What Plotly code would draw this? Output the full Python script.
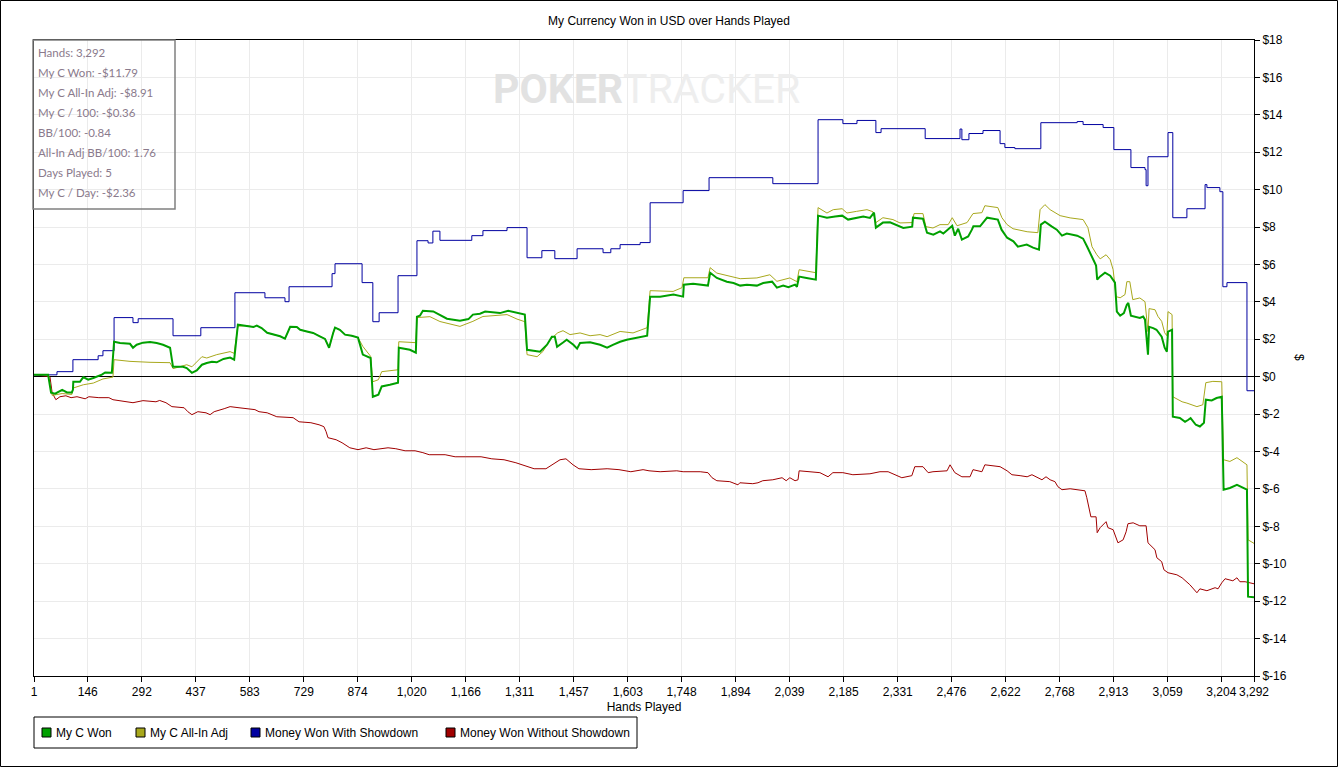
import plotly.graph_objects as go

# hands played vs cumulative USD
my_c_won = [
    (1, 0.11), (39, 0.11), (47, -0.86), (58, -0.91), (77, -0.70), (90, -0.84), (103, -0.84),
    (106, -0.70), (107, -0.27), (125, -0.27), (134, -0.02), (147, -0.16), (161, -0.07),
    (174, 0.02), (184, 0.11), (193, 0.23), (211, 0.21), (217, 1.87), (233, 1.80), (260, 1.76),
    (268, 1.55), (278, 1.71), (295, 1.82), (314, 1.85), (332, 1.80), (349, 1.71), (359, 1.62),
    (368, 1.55), (376, 0.53), (403, 0.53), (413, 0.46), (427, 0.21), (440, 0.34), (454, 0.64),
    (467, 0.73), (481, 0.80), (494, 0.77), (512, 0.95), (530, 1.02), (541, 0.91), (551, 2.78),
    (575, 2.73), (593, 2.66), (602, 2.73), (615, 2.60), (630, 2.35), (647, 2.25), (665, 2.16),
    (678, 2.03), (687, 2.42), (692, 2.67), (710, 2.66), (719, 2.51), (737, 2.42), (754, 2.34),
    (772, 2.16), (786, 2.02), (797, 1.55), (804, 2.16), (808, 2.34), (813, 2.62), (826, 2.51),
    (840, 2.25), (858, 2.19), (875, 2.09), (888, 1.18), (909, 1.00), (915, -1.07), (930, -0.96),
    (939, -0.52), (961, -0.43), (983, -0.32), (985, 1.55), (1015, 1.44), (1031, 1.28),
    (1034, 3.21), (1042, 3.26), (1050, 3.53), (1078, 3.49), (1096, 3.30), (1115, 3.10),
    (1150, 2.99), (1173, 3.08), (1185, 3.32), (1204, 3.37), (1218, 3.48), (1240, 3.44),
    (1258, 3.40), (1280, 3.53), (1299, 3.44), (1325, 3.32), (1331, 1.44), (1366, 1.34),
    (1385, 1.71), (1398, 2.14), (1406, 2.14), (1412, 1.60), (1429, 1.84), (1438, 1.98),
    (1456, 1.71), (1466, 1.50), (1474, 1.80), (1501, 1.84), (1528, 1.71), (1547, 1.55),
    (1564, 1.71), (1582, 1.87), (1600, 1.98), (1627, 2.07), (1655, 2.19), (1663, 4.28),
    (1690, 4.28), (1726, 4.39), (1752, 4.28), (1754, 4.92), (1779, 4.97), (1819, 4.87),
    (1825, 5.56), (1843, 5.28), (1870, 5.08), (1888, 5.01), (1906, 4.87), (1924, 4.92),
    (1951, 4.87), (1968, 5.01), (1992, 5.08), (2005, 4.76), (2022, 4.87), (2036, 4.78),
    (2054, 4.92), (2059, 4.81), (2065, 5.35), (2085, 5.28), (2110, 5.19), (2116, 8.61),
    (2140, 8.50), (2162, 8.57), (2181, 8.61), (2197, 8.40), (2220, 8.49), (2238, 8.57),
    (2256, 8.49), (2267, 8.77), (2272, 7.97), (2291, 8.24), (2310, 8.25), (2329, 8.07),
    (2346, 7.95), (2370, 8.02), (2372, 8.50), (2399, 8.45), (2410, 7.70), (2427, 7.59),
    (2445, 7.77), (2454, 7.65), (2467, 7.86), (2478, 8.07), (2485, 7.54), (2494, 7.91),
    (2504, 7.33), (2521, 7.50), (2531, 7.86), (2535, 8.04), (2553, 8.04), (2572, 8.50),
    (2601, 8.40), (2611, 7.86), (2626, 7.43), (2643, 7.24), (2655, 6.95), (2679, 7.06),
    (2696, 6.90), (2712, 6.79), (2717, 8.13), (2728, 8.29), (2746, 8.04), (2760, 7.86),
    (2774, 7.54), (2787, 7.65), (2815, 7.54), (2831, 7.38), (2842, 6.95), (2850, 6.63),
    (2863, 6.04), (2866, 5.94), (2869, 5.19), (2877, 5.36), (2890, 5.56), (2904, 5.40),
    (2917, 5.03), (2922, 3.48), (2931, 3.26), (2941, 3.40), (2949, 3.85), (2953, 3.94),
    (2960, 3.26), (2971, 3.22), (2984, 3.14), (2993, 3.22), (2998, 3.05), (3006, 1.18),
    (3009, 2.67), (3020, 2.60), (3029, 2.51), (3043, 2.14), (3051, 1.55), (3057, 1.34),
    (3060, 2.41), (3071, 2.51), (3073, -2.14), (3092, -2.21), (3106, -2.41), (3115, -2.30),
    (3121, -2.21), (3135, -2.57), (3146, -2.66), (3157, -2.46), (3162, -1.23), (3178, -1.27),
    (3191, -1.14), (3205, -1.07), (3210, -6.04), (3227, -5.95), (3246, -5.78), (3273, -6.04),
    (3276, -11.76), (3292, -11.79),
]

my_c_allin_adj = [
    (1, 0.11), (39, 0.11), (50, -1.00), (77, -0.90), (103, -0.95), (106, -0.61), (134, -0.43),
    (161, -0.34), (187, -0.12), (214, -0.02), (217, 0.91), (260, 0.82), (314, 0.77),
    (368, 0.75), (376, 0.43), (413, 0.64), (427, 0.53), (454, 1.07), (467, 1.00), (494, 1.18),
    (530, 1.34), (541, 1.25), (551, 2.70), (575, 2.73), (593, 2.66), (602, 2.73), (615, 2.60),
    (630, 2.35), (647, 2.25), (665, 2.16), (678, 2.03), (687, 2.42), (692, 2.67), (710, 2.66),
    (719, 2.51), (737, 2.42), (754, 2.34), (772, 2.16), (786, 2.02), (797, 1.55), (804, 2.16),
    (808, 2.34), (813, 2.62), (826, 2.51), (840, 2.25), (858, 2.19), (875, 2.09), (888, 1.62),
    (909, 1.09), (915, -0.27), (930, -0.16), (939, 0.27), (983, 0.37), (985, 1.87),
    (1031, 1.82), (1034, 3.16), (1069, 3.21), (1096, 2.95), (1150, 2.69), (1185, 2.96),
    (1212, 3.22), (1277, 3.32), (1304, 3.08), (1325, 2.94), (1331, 1.18), (1358, 1.07),
    (1374, 1.35), (1393, 1.98), (1414, 2.35), (1428, 2.46), (1447, 2.25), (1474, 2.34),
    (1501, 2.19), (1528, 2.25), (1547, 2.14), (1582, 2.42), (1617, 2.34), (1655, 2.62),
    (1663, 4.60), (1725, 4.56), (1749, 4.76), (1754, 5.29), (1819, 5.29), (1825, 5.83),
    (1843, 5.54), (1878, 5.36), (1906, 5.24), (1951, 5.28), (1986, 5.45), (2005, 5.10),
    (2040, 5.28), (2059, 5.08), (2065, 5.72), (2110, 5.56), (2116, 9.04), (2140, 8.75),
    (2157, 8.93), (2181, 8.98), (2194, 8.75), (2220, 8.84), (2248, 8.93), (2264, 8.82),
    (2272, 8.24), (2291, 8.50), (2318, 8.40), (2337, 8.22), (2370, 8.24), (2375, 8.72),
    (2399, 8.72), (2407, 8.02), (2426, 7.95), (2445, 8.13), (2467, 8.13), (2478, 8.50),
    (2491, 8.07), (2518, 8.24), (2534, 8.72), (2558, 8.77), (2566, 9.14), (2601, 9.04),
    (2612, 8.50), (2626, 8.13), (2642, 7.91), (2680, 7.75), (2709, 7.70), (2715, 8.93),
    (2728, 9.20), (2742, 8.93), (2769, 8.61), (2796, 8.49), (2831, 8.40), (2844, 7.97),
    (2855, 6.95), (2868, 6.52), (2877, 6.30), (2893, 6.52), (2904, 6.26), (2912, 5.72),
    (2920, 4.28), (2931, 4.22), (2944, 4.39), (2949, 5.08), (2957, 5.08), (2965, 4.12),
    (2984, 4.21), (2998, 4.01), (3006, 2.41), (3009, 3.64), (3025, 3.58), (3033, 3.22),
    (3043, 2.96), (3051, 2.35), (3057, 2.19), (3060, 3.48), (3071, 3.32), (3073, -1.07),
    (3098, -1.34), (3111, -1.41), (3138, -1.60), (3154, -1.50), (3162, -0.32), (3181, -0.25),
    (3205, -0.27), (3210, -4.44), (3227, -4.53), (3246, -4.33), (3273, -4.71), (3276, -8.72),
    (3292, -8.91),
]

# step line: value holds until the next hand listed
won_with_showdown = [
    (1, 0.10), (63, 0.27), (106, 0.91), (174, 1.12), (187, 1.39), (217, 3.16), (268, 2.89),
    (282, 3.10), (376, 2.19), (451, 2.62), (543, 4.49), (624, 4.22), (678, 4.01), (689, 4.81),
    (805, 5.51), (813, 6.04), (886, 5.03), (915, 2.94), (932, 3.42), (983, 5.40), (1034, 7.27),
    (1064, 7.15), (1077, 7.78), (1096, 7.29), (1182, 7.54), (1212, 7.81), (1277, 7.97),
    (1331, 6.36), (1371, 6.74), (1406, 6.31), (1466, 6.84), (1536, 6.63), (1557, 6.84),
    (1582, 7.06), (1636, 7.17), (1663, 9.30), (1752, 9.95), (1822, 10.64), (1994, 10.32),
    (2116, 13.74), (2183, 13.53), (2221, 13.70), (2272, 13.05), (2286, 13.26), (2405, 12.73),
    (2499, 13.24), (2504, 12.67), (2523, 13.00), (2561, 13.16), (2607, 12.46), (2620, 12.25),
    (2647, 12.19), (2717, 13.58), (2815, 13.64), (2831, 13.48), (2885, 13.32), (2914, 12.14),
    (2960, 11.18), (2998, 11.07), (3001, 10.21), (3006, 11.76), (3060, 13.05), (3073, 8.50),
    (3111, 8.98), (3160, 10.27), (3165, 10.11), (3200, 9.89), (3208, 4.81), (3219, 5.03),
    (3273, -0.75), (3292, -0.75),
]

won_without_showdown = [
    (1, 0.11), (44, 0.00), (50, -0.86), (60, -1.23), (71, -1.07), (87, -1.02), (101, -1.12),
    (117, -1.07), (139, -1.18), (149, -1.07), (176, -1.12), (203, -1.12), (214, -1.23),
    (236, -1.28), (246, -1.34), (268, -1.39), (295, -1.28), (330, -1.34), (340, -1.27),
    (357, -1.39), (373, -1.60), (406, -1.66), (416, -1.87), (427, -2.03), (443, -1.87),
    (465, -1.93), (476, -2.03), (487, -1.87), (514, -1.71), (530, -1.60), (554, -1.66),
    (581, -1.71), (597, -1.76), (608, -1.87), (630, -1.93), (656, -2.14), (700, -2.19),
    (716, -2.41), (748, -2.46), (770, -2.57), (783, -2.67), (789, -2.94), (794, -3.26),
    (816, -3.37), (832, -3.53), (853, -3.80), (875, -3.90), (897, -3.80), (918, -3.90),
    (956, -3.80), (977, -3.85), (1002, -3.96), (1029, -3.96), (1050, -4.06), (1067, -4.17),
    (1110, -4.17), (1137, -4.28), (1164, -4.28), (1207, -4.28), (1236, -4.39), (1269, -4.44),
    (1301, -4.60), (1328, -4.76), (1350, -4.92), (1382, -4.92), (1420, -4.44), (1436, -4.39),
    (1455, -4.71), (1471, -4.92), (1504, -4.97), (1547, -4.92), (1579, -4.97), (1611, -5.08),
    (1644, -4.97), (1660, -5.03), (1690, -5.08), (1735, -5.03), (1752, -5.08), (1798, -5.08),
    (1819, -5.13), (1830, -5.40), (1843, -5.56), (1878, -5.61), (1900, -5.78), (1905, -5.67),
    (1940, -5.72), (1954, -5.67), (1967, -5.56), (1994, -5.51), (2019, -5.40), (2030, -5.56),
    (2040, -5.40), (2054, -5.56), (2062, -5.51), (2065, -5.03), (2094, -5.08), (2121, -5.13),
    (2143, -5.35), (2156, -5.13), (2183, -5.13), (2210, -5.24), (2256, -5.19), (2283, -5.08),
    (2305, -5.08), (2329, -5.29), (2342, -5.40), (2369, -5.29), (2377, -4.81), (2399, -4.81),
    (2413, -5.13), (2426, -5.08), (2464, -5.03), (2472, -4.71), (2485, -5.13), (2504, -5.35),
    (2526, -5.35), (2534, -4.97), (2558, -5.08), (2566, -4.71), (2607, -4.81), (2626, -5.03),
    (2639, -5.24), (2661, -5.29), (2680, -5.35), (2693, -5.24), (2707, -5.40), (2720, -5.51),
    (2731, -5.35), (2742, -5.51), (2755, -5.61), (2763, -5.88), (2774, -6.04), (2796, -5.99),
    (2836, -6.10), (2841, -6.47), (2852, -7.49), (2866, -7.49), (2869, -8.34), (2877, -8.07),
    (2893, -7.75), (2898, -8.07), (2912, -8.18), (2920, -8.56), (2925, -8.88), (2939, -8.72),
    (2947, -8.29), (2952, -7.86), (2966, -7.81), (2984, -7.97), (3001, -7.97), (3006, -8.88),
    (3025, -9.25), (3030, -9.68), (3043, -9.89), (3049, -10.32), (3060, -10.48), (3084, -10.59),
    (3098, -10.75), (3119, -11.12), (3138, -11.55), (3146, -11.34), (3165, -11.44),
    (3187, -11.28), (3195, -11.34), (3205, -11.02), (3214, -10.80), (3235, -10.91),
    (3246, -10.75), (3254, -10.96), (3268, -10.96), (3292, -11.07),
]

x_tickvals = [1, 146, 292, 437, 583, 729, 874, 1020, 1166, 1311, 1457, 1603, 1748,
              1894, 2039, 2185, 2331, 2476, 2622, 2768, 2913, 3059, 3204, 3292]
x_ticktext = ["1", "146", "292", "437", "583", "729", "874", "1,020", "1,166", "1,311",
              "1,457", "1,603", "1,748", "1,894", "2,039", "2,185", "2,331", "2,476",
              "2,622", "2,768", "2,913", "3,059", "3,204", "3,292"]
y_tickvals = [-16, -14, -12, -10, -8, -6, -4, -2, 0, 2, 4, 6, 8, 10, 12, 14, 16, 18]
y_ticktext = ["$-16", "$-14", "$-12", "$-10", "$-8", "$-6", "$-4", "$-2", "$0",
              "$2", "$4", "$6", "$8", "$10", "$12", "$14", "$16", "$18"]

stats_lines = ["Hands: 3,292", "My C Won: -$11.79", "My C All-In Adj: -$8.91",
               "My C / 100: -$0.36", "BB/100: -0.84", "All-In Adj BB/100: 1.76",
               "Days Played: 5", "My C / Day: -$2.36"]

legend_names = ["My C Won", "My C All-In Adj", "Money Won With Showdown",
                "Money Won Without Showdown"]
colors = ["#00a000", "#a8a81c", "#0000a0", "#a00000"]

W, H = 1338, 767
L, R, T, B = 34, 84, 40, 91
pw, ph = W - L - R, H - T - B


def px(x):
    return (x - L) / pw


def py(y):
    return (H - B - y) / ph


def unzip(pairs):
    return [p[0] for p in pairs], [p[1] for p in pairs]


fig = go.Figure()
series = [
    (won_without_showdown, colors[3], 1, "linear"),
    (won_with_showdown, colors[2], 1, "hv"),
    (my_c_allin_adj, colors[1], 1, "linear"),
    (my_c_won, colors[0], 2, "linear"),
]
for pairs, col, w, shape in series:
    xs, ys = unzip(pairs)
    fig.add_trace(go.Scatter(x=xs, y=ys, mode="lines",
                             line=dict(color=col, width=w, shape=shape),
                             showlegend=False, hoverinfo="skip"))

font = "Liberation Sans, Arial, sans-serif"
shapes = []
annotations = []

# outer frame
shapes.append(dict(type="rect", xref="paper", yref="paper",
                   x0=px(0.5), x1=px(W - 0.5), y0=py(H - 0.5), y1=py(0.5),
                   line=dict(color="black", width=1)))

# stats box
shapes.append(dict(type="rect", xref="paper", yref="paper",
                   x0=px(33), x1=px(175), y0=py(209), y1=py(40),
                   line=dict(color="#808080", width=1.5)))
for i, txt in enumerate(stats_lines):
    annotations.append(dict(xref="paper", yref="paper", x=px(36), y=py(52.5 + 20 * i),
                            xanchor="left", yanchor="middle", text=txt, showarrow=False,
                            font=dict(family="Lato, Open Sans, sans-serif", size=11.5,
                                      color="#8a7a8c")))

# watermark
annotations.append(dict(xref="paper", yref="paper", x=px(646), y=py(89),
                        xanchor="center", yanchor="middle", showarrow=False,
                        text="<b><span style='color:#e2e2e2'>POKER</span></b>"
                             "<span style='color:#eeeeee'>TRACKER</span>",
                        font=dict(family="Roboto, sans-serif", size=41)))

# y axis label
annotations.append(dict(xref="paper", yref="paper", x=px(1308), y=py(358), text="$",
                        textangle=90, showarrow=False,
                        font=dict(family=font, size=12, color="black")))

# legend drawn by hand: box, coloured squares and names
shapes.append(dict(type="rect", xref="paper", yref="paper",
                   x0=px(34), x1=px(637), y0=py(748), y1=py(717),
                   line=dict(color="black", width=1), fillcolor="white"))
sq_left = [42, 136, 251, 446]
for name, col, sx in zip(legend_names, colors, sq_left):
    shapes.append(dict(type="rect", xref="paper", yref="paper",
                       x0=px(sx), x1=px(sx + 9), y0=py(737), y1=py(728),
                       line=dict(color="black", width=1), fillcolor=col))
    annotations.append(dict(xref="paper", yref="paper", x=px(sx + 12), y=py(732.5),
                            xanchor="left", yanchor="middle", text=name, showarrow=False,
                            font=dict(family=font, size=12, color="black")))

fig.update_layout(
    width=W, height=H,
    margin=dict(l=L, r=R, t=T, b=B),
    paper_bgcolor="white", plot_bgcolor="white",
    title=dict(text="My Currency Won in USD over Hands Played", x=0.5, xanchor="center",
               yref="container", y=1 - 21 / H, yanchor="middle",
               font=dict(family=font, size=12, color="black")),
    font=dict(family=font, size=12, color="black"),
    shapes=shapes,
    annotations=annotations,
    showlegend=False,
)

fig.update_xaxes(range=[1, 3292], tickvals=x_tickvals, ticktext=x_ticktext,
                 showgrid=True, gridcolor="#ebebeb", gridwidth=1,
                 showline=True, linecolor="black", linewidth=1, mirror=True,
                 ticks="outside", ticklen=5, tickcolor="black", zeroline=False,
                 title=dict(text="Hands Played", standoff=4,
                            font=dict(family=font, size=12, color="black")))
fig.update_yaxes(range=[-16, 18], tickvals=y_tickvals, ticktext=y_ticktext, side="right",
                 showgrid=True, gridcolor="#ebebeb", gridwidth=1,
                 showline=True, linecolor="black", linewidth=1, mirror=True,
                 ticks="outside", ticklen=5, tickcolor="black",
                 zeroline=True, zerolinecolor="black", zerolinewidth=1)

# page body has a default margin; drop it so the figure sits at the window corner
fig.write_html("out.html", config={"displayModeBar": False},
               post_script="document.body.style.margin='0';")
